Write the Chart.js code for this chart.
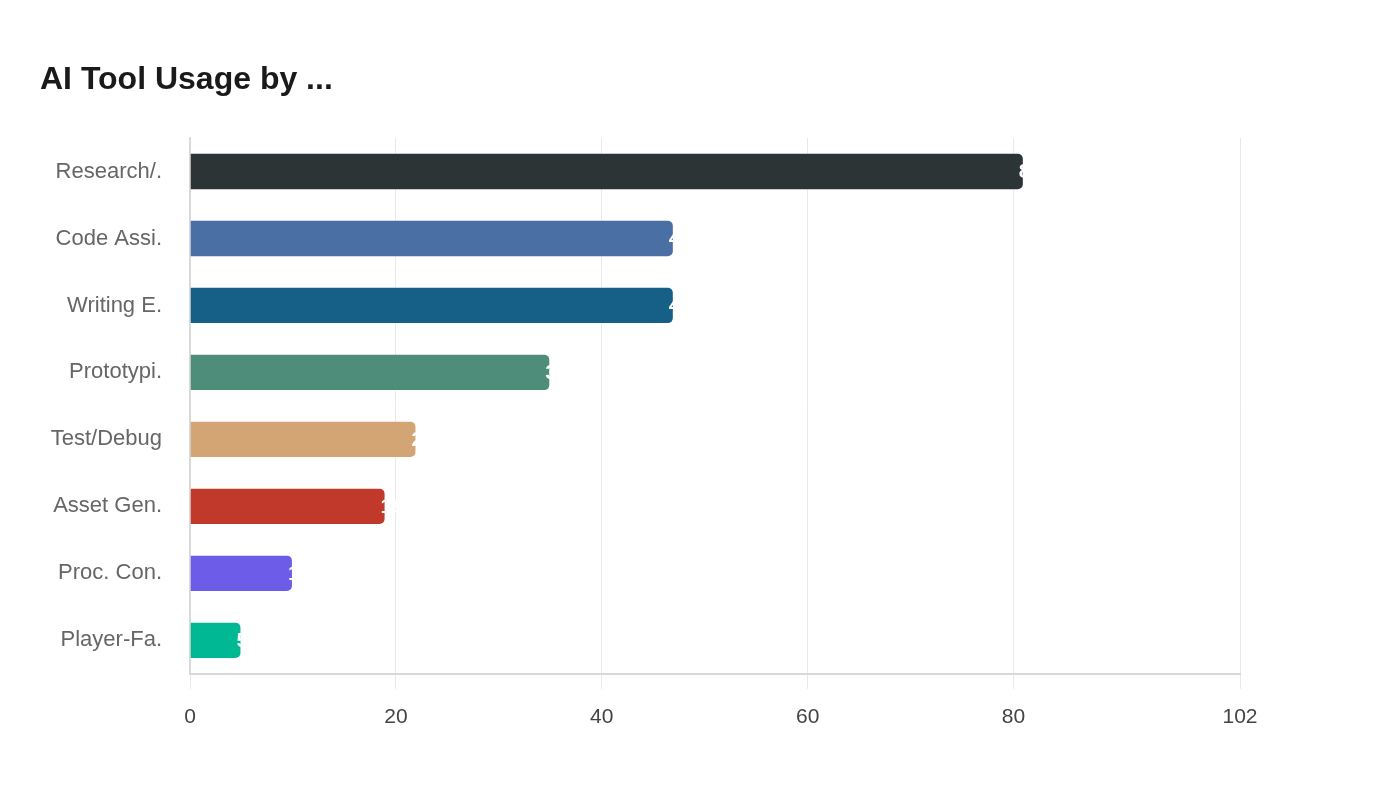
<!DOCTYPE html>
<html>
<head>
<meta charset="utf-8">
<script src="https://cdn.jsdelivr.net/npm/chart.js@4/dist/chart.umd.min.js"></script>
<style>
	html, body { margin: 0; padding: 0; background: #fff; }
	#chartContainer { width: 1400px; height: 800px; }
</style>
</head>
<body>
<div id="chartContainer">
	<canvas id="usageChart" width="1400" height="800"></canvas>
</div>
<script>
var categories = ["Research/.", "Code Assi.", "Writing E.", "Prototypi.", "Test/Debug", "Asset Gen.", "Proc. Con.", "Player-Fa."]
var usageValues = [81, 47, 47, 35, 22, 19, 10, 5]
var valueLabels = ["81", "47", "47", "35", "22", "19", "10", "5"]
var barColors = ["#2d3436", "#4a6fa5", "#166088", "#4f8d7b", "#d4a574", "#c0392b", "#6c5ce7", "#00b894"]
var xTickValues = [0, 20, 40, 60, 80, 102]

// white value text drawn at the end of each bar
const endLabelPlugin = {
	id: 'endLabels',
	afterDatasetsDraw(chart){
		const ctx = chart.ctx;
		const meta = chart.getDatasetMeta(0);
		ctx.save();
		ctx.fillStyle = "#ffffff";
		ctx.font = "bold 21px 'Liberation Sans', Arial, sans-serif";
		ctx.textAlign = "left";
		ctx.textBaseline = "middle";
		meta.data.forEach(function(bar, i){
			ctx.fillText(valueLabels[i], bar.x - 5, bar.y + 1);
		});
		ctx.restore();
	}
}

{
	const data = {
		labels: categories,
		datasets: [{
			data: usageValues,
			backgroundColor: barColors,
			borderColor: "rgba(255,255,255,0.6)",
			borderWidth: 1,
			borderRadius: 6,
			categoryPercentage: 0.9,
			barPercentage: 0.62
		}]
	}

	const options = {
		indexAxis: 'y',
		responsive: false,
		animation: false,
		layout: {
			padding: { left: 40, right: 160, top: 0, bottom: 54 }
		},
		plugins: {
			legend: { display: false },
			tooltip: { enabled: false },
			title: {
				display: true,
				text: "AI Tool Usage by ...",
				align: 'start',
				color: "#1a1a1a",
				font: { family: "'Liberation Sans', Arial, sans-serif", size: 32, weight: 'bold' },
				padding: { top: 61, bottom: 38.6 }
			}
		},
		scales: {
			x: {
				min: 0,
				max: 102,
				afterBuildTicks: function(scale){
					scale.ticks = xTickValues.map(function(v){ return { value: v } });
				},
				grid: { color: "#e8e8e8", lineWidth: 1, tickLength: 15 },
				border: { color: "#d9d9d9", width: 2 },
				ticks: {
					color: "#444444",
					padding: 16,
					maxRotation: 0,
					font: { family: "'Liberation Sans', Arial, sans-serif", size: 21 }
				}
			},
			y: {
				afterFit: function(scale){ scale.width = 150; },
				grid: { display: false },
				border: { color: "#d9d9d9", width: 2 },
				ticks: {
					color: "#666666",
					padding: 20,
					font: { family: "'Liberation Sans', Arial, sans-serif", size: 22 }
				}
			}
		}
	}

	new Chart(document.getElementById("usageChart"), {
		type: 'bar',
		data: data,
		options: options,
		plugins: [endLabelPlugin]
	});
}
</script>
</body>
</html>
